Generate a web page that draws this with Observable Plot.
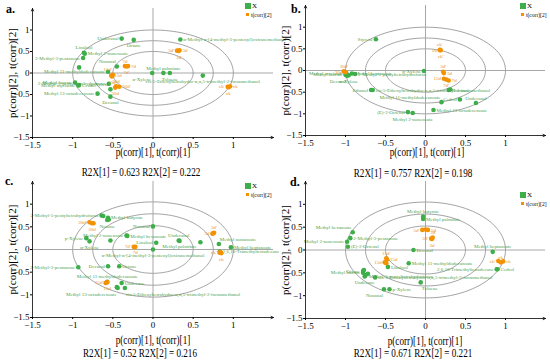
<!DOCTYPE html>
<html><head><meta charset="utf-8">
<script src="https://cdn.jsdelivr.net/npm/d3@7"></script>
<script src="https://cdn.jsdelivr.net/npm/@observablehq/plot@0.6"></script>
<style>
body{margin:0;background:#fff;}
#fig{position:relative;width:550px;height:363px;overflow:hidden;font-family:"Liberation Serif",serif;color:#000;}
.pan{position:absolute;}
.plab{position:absolute;font-weight:bold;font-size:12px;line-height:12px;}
.cap{position:absolute;font-size:12.5px;line-height:12px;white-space:nowrap;transform:translate(-50%,-50%) scaleX(0.73);}
.lg{position:absolute;}
.lgt{position:absolute;white-space:nowrap;line-height:8px;}
</style></head>
<body><div id="fig"></div>
<script>
// ---------- shared ----------
const axisTicks = [-1.5, -1, -0.5, 0, 0.5, 1];
const axisExtent = [-1.5, 1.5];
const ellipseRadii = [0.5, 0.75, 1];
const xLabel = "p(corr)[1], t(corr)[1]";
const yLabel = "p(corr)[2], t(corr)[2]";
const legendX = "X";
const legendT = "t(corr)[2]";

// ---------- panel a ----------
const aNames = ["Undecanal","Octane","α-Methyl-α-[4-methyl-3-pentenyl]oxiranemethanol","Linalool","Methyl 2-nonenoate","2-Methyl-3-pentanone","Heptanal","Nonanal","Methyl 11-methyldodecanoate","α-Xylene","Methyl palmitate","Toluene","cis-5-Ethenyltetrahydro-α,α,5-trimethyl-2-furanmethanol","Methyl laurate","2-Methyl-5-pentyltetrahydrofuran","Methyl myristate","Cedrol","p-Xylene","Methyl 13-octadecenoate","Decanal"];
const aX = [-0.39,-0.24,0.34,-0.86,-0.85,-0.87,-0.92,-0.45,-0.56,-0.01,0.13,0.21,0.62,-0.97,-0.55,-0.93,-0.92,-0.53,-0.69,-0.53];
const aY = [0.80,0.77,0.78,0.47,0.45,0.35,0.13,0.15,0.03,0.0,0.0,0.0,-0.06,-0.22,-0.25,-0.29,-0.28,-0.38,-0.48,-0.55];
const aCodes = ["ck'","ck","ck","3d'","3d","3d","7d","7d","7d'","15d","15d'","15d","30d","30d'","30d"];
const aOX = [0.93,0.96,0.94,0.30,0.33,0.32,-0.35,-0.31,-0.33,-0.52,-0.50,-0.51,-0.47,-0.42,-0.46];
const aOY = [-0.32,-0.31,-0.33,0.52,0.53,0.51,0.16,0.16,0.15,-0.06,-0.04,-0.08,-0.34,-0.32,-0.31];
const aR2X = ["0.623","0.222"];
const aPlace = ["l","b","r","t","r","l","n","tl","l","bl","t","b","b","l","l","l","r","tl","l","b"];
const aOPlace = ["l","r","b","l","r","b","t","r","b","r","tl","b","b","r","t"];

// ---------- panel b ----------
const bNames = ["Styrene","Methyl laurate","Methyl myristate","Decanal","α-Xylene","Methyl heptanoate","2-Methyl-5-pentyltetrahydrofuran","p-Xylene","Ethanol","cis-5-Ethenyltetrahydro-α,α,5-trimethyl-2-furanmethanol","Nonanal","Octane","Methyl 11-methyldodecanoate","Cedrol","Undecanal","Methyl 13-octadecenoate","(E)-2-Octenal","Methyl 2-nonenoate"];
const bX = [-0.62,-1.0,-0.99,-0.98,-0.96,-0.92,-0.88,-0.02,-0.68,-0.66,0.29,0.31,0.20,0.43,0.63,0.10,-0.22,-0.16];
const bY = [0.72,-0.10,-0.06,-0.12,-0.11,-0.07,-0.08,-0.01,-0.45,-0.45,-0.45,-0.44,-0.73,-0.67,-0.75,-0.91,-0.96,-0.98];
const bCodes = ["ck'","ck","ck'","3d'","3d","15d","7d'","7d","30d'","30d"];
const bOX = [0.18,0.18,0.19,0.22,0.23,0.23,0.26,0.29,-1.02,-1.0];
const bOY = [0.48,0.47,0.47,-0.03,-0.06,-0.19,-0.21,-0.23,-0.02,-0.04];
const bR2X = ["0.757","0.198"];
const bPlace = ["l","l","l","bl","b","r","r","l","l","r","r","n","tl","l","t","r","l","b"];
const bOPlace = ["t","l","b","t","r","l","b","r","t","l"];

// ---------- panel c ----------
const cNames = ["2-Methyl-5-pentyltetrahydrofuran","Heptanal","Methyl butyrate","Nonane","Methyl pentanoate","Nonanal","Methyl 2-nonenoate","Methyl hexanoate","p-Xylene","α-Xylene","Octanal","Linalool","α-Methyl-α-[4-methyl-3-pentenyl]oxiranemethanol","Undecanal","Methyl palmitate","Methyl laurate","Methyl nonanoate","Methyl heptanoate","2,6,10-Trimethyltetradecane","2-Methyl-3-pentanone","Decanal","Octane","Methyl 11-methyldodecanoate","Undecane","Methyl 13-octadecenoate","Methyl myristate","cis-5-Ethenyltetrahydro-α,α,5-trimethyl-2-furanmethanol"];
const cX = [-0.64,-0.62,-0.56,-0.57,-0.55,0.0,-0.33,-0.32,-0.83,-0.79,-0.53,0.04,0.0,0.32,0.33,0.59,0.82,0.97,0.83,-0.93,-0.56,-0.42,-0.57,-0.39,-0.44,-0.45,-0.35];
const cY = [0.75,0.74,0.70,0.65,0.66,0.51,0.31,0.30,0.25,0.18,0.20,0.15,0.0,0.20,0.19,0.16,0.12,0.05,-0.05,-0.39,-0.37,-0.37,-0.71,-0.74,-0.85,-0.83,-0.85];
const cCodes = ["30d'","30d","30d","7d'","7d","7d","15d'","15d","15d","3d","3d'","3d","ck'","ck","ck"];
const cOX = [-0.79,-0.76,-0.74,-0.24,-0.22,-0.23,-0.58,-0.57,-0.59,0.74,0.76,0.75,0.83,0.85,0.84];
const cOY = [0.60,0.58,0.58,0.06,0.06,0.05,-0.73,-0.72,-0.74,0.35,0.37,0.36,-0.07,-0.08,-0.06];
const cR2X = ["0.52","0.216"];
const cPlace = ["l","n","r","b","n","l","l","r","l","b","n","l","b","t","b","n","tr","r","r","l","l","r","t","r","bl","n","br"];
const cOPlace = ["l","b","n","l","b","n","l","b","n","l","t","n","l","b","n"];

// ---------- panel d ----------
const dNames = ["Methyl butyrate","Methyl palmitate","Methyl hexanoate","2-Methyl-3-pentanone","Methyl 2-nonenoate","(E)-2-Octenal","Decanal","Methyl heptanoate","Methyl 11-methyldodecanoate","Linalool","2-Methyl-5-pentyltetrahydrofuran","Octane","Cedrol","2,6,10-Trimethyltetradecane","Methyl laurate","Methyl myristate","Methyl 13-octadecenoate","Undecane","cis-5-Ethenyltetrahydro-α,α,5-trimethyl-2-furanmethanol","Toluene","Nonanal","p-Xylene"];
const dX = [-0.03,-0.03,-0.91,-0.94,-0.98,-0.97,-0.15,0.84,-0.21,-0.47,-0.77,-0.78,0.90,0.89,-0.78,-0.75,-0.72,-0.76,-0.63,-0.06,-0.52,-0.45];
const dY = [0.73,0.68,0.39,0.26,0.18,0.07,0.0,-0.04,-0.29,-0.37,-0.44,-0.46,-0.42,-0.42,-0.50,-0.55,-0.52,-0.58,-0.60,-0.71,-0.86,-0.86];
const dCodes = ["5d'","5d","5d","3d'","3d","3d","15d'","15d","15d","15d","ck'","ck","ck"];
const dOX = [-0.04,0.0,0.03,0.07,0.09,0.08,-0.49,-0.48,-0.51,-0.49,0.91,0.94,0.97];
const dOY = [0.44,0.45,0.44,0.25,0.27,0.24,-0.18,-0.21,-0.27,-0.29,-0.24,-0.27,-0.25];
const dR2X = ["0.671","0.221"];
const dPlace = ["t","r","tl","r","l","r","r","t","r","r","br","l","r","l","l","n","n","b","r","br","bl","r"];
const dOPlace = ["l","n","r","l","t","b","t","r","l","n","l","t","r"];

// ---------- drawing ----------
const GREEN = "#3dae49", GREEN_T = "#4f9f4f", ORANGE = "#f39200", ORANGE_T = "#e8912a";
const placeSpec = {
  l:{textAnchor:"end",dx:-3,dy:0}, r:{textAnchor:"start",dx:3,dy:0},
  t:{textAnchor:"middle",dx:0,dy:-5}, b:{textAnchor:"middle",dx:0,dy:6},
  tl:{textAnchor:"end",dx:-1,dy:-5}, tr:{textAnchor:"start",dx:1,dy:-5},
  bl:{textAnchor:"end",dx:-1,dy:6}, br:{textAnchor:"start",dx:1,dy:6}
};
const fig = document.getElementById("fig");

function panel(p) {
  const green = p.names.map((n,i)=>({name:n,x:p.gx[i],y:p.gy[i],place:p.gp[i]}));
  const orange = p.codes.map((n,i)=>({name:n,x:p.ox[i],y:p.oy[i],place:p.op[i]}));
  const ell = ellipseRadii.flatMap(r => d3.range(0, 361, 3).map(a => ({r, x: r*Math.cos(a*Math.PI/180), y: r*p.ry*Math.sin(a*Math.PI/180)})));
  const axesLines = [
    {x1:axisExtent[0], y1:axisExtent[0], x2:axisExtent[1], y2:axisExtent[0]},
    {x1:axisExtent[0], y1:axisExtent[0], x2:axisExtent[0], y2:axisExtent[1]}
  ];
  const labelMarks = (data, fill) => Object.keys(placeSpec).map(k =>
    Plot.text(data.filter(d => d.place === k), {x:"x", y:"y", text:"name", fill, fontSize:5, ...placeSpec[k]}));
  const chart = Plot.plot({
    width: 275, height: p.h,
    marginLeft: p.ml, marginRight: p.mr, marginTop: p.mt, marginBottom: p.mb,
    x: {domain: axisExtent}, y: {domain: axisExtent},
    style: {fontFamily: "Liberation Serif", fontSize: "9px", background: "transparent", overflow: "visible"},
    marks: [
      Plot.line(ell, {x:"x", y:"y", z:"r", stroke:"#8c8c8c", strokeWidth:0.8, curve:"linear"}),
      Plot.ruleY([0], {x1: axisExtent[0], x2: axisExtent[1], stroke:"#a8a8a8", strokeWidth:1}),
      Plot.ruleX([0], {y1: axisExtent[0], y2: axisExtent[1], stroke:"#a8a8a8", strokeWidth:1}),
      Plot.dot(green, {x:"x", y:"y", r:2.3, fill:GREEN}),
      ...labelMarks(green, GREEN_T),
      Plot.dot(orange, {x:"x", y:"y", r:2.3, fill:ORANGE}),
      ...labelMarks(orange, ORANGE_T),
      Plot.axisX({ticks: axisTicks, tickSize: 2, tickPadding: 2, fontSize: 9, label: null, tickFormat: d3.format("~g")}),
      Plot.axisY({ticks: axisTicks, tickSize: 2, tickPadding: 1, fontSize: 9, label: null, tickFormat: d3.format("~g")}),
      Plot.arrow(axesLines, {x1:"x1", y1:"y1", x2:"x2", y2:"y2", stroke:"#000", strokeWidth:0.8, headLength:5, headAngle:50}),
      Plot.text([yLabel], {frameAnchor:"left", textAnchor:"middle", lineAnchor:"middle", dx:-20, rotate:-90, fontSize:11, fill:"#000"})
    ]
  });
  const wrap = document.createElement("div");
  wrap.className = "pan";
  wrap.style.left = p.left + "px"; wrap.style.top = p.top + "px";
  wrap.appendChild(chart);
  fig.appendChild(wrap);

  const mk = (cls, txt, css) => { const e = document.createElement("div"); e.className = cls; e.textContent = txt; Object.assign(e.style, css); fig.appendChild(e); return e; };
  mk("plab", p.letter, {left: p.letterX + "px", top: p.letterY + "px"});
  mk("cap", xLabel, {left: p.capX + "px", top: p.capY + "px"});
  mk("cap", `R2X[1] = ${p.r2x[0]} R2X[2] = ${p.r2x[1]}`, {left: p.r2X + "px", top: p.r2Y + "px"});
  // legend
  mk("lg", "", {left: p.lgX + "px", top: p.lgY + "px", width: "6px", height: "6px", background: GREEN});
  mk("lgt", legendX, {left: (p.lgX + 7) + "px", top: (p.lgY - 1) + "px", fontSize: "7px"});
  mk("lg", "", {left: (p.lgX + 1) + "px", top: (p.lgY + 10) + "px", width: "3px", height: "3px", background: ORANGE});
  mk("lgt", legendT, {left: (p.lgX + 6) + "px", top: (p.lgY + 8) + "px", fontSize: "5.5px"});
}

panel({names:aNames, gx:aX, gy:aY, gp:aPlace, codes:aCodes, ox:aOX, oy:aOY, op:aOPlace, r2x:aR2X, ry:1,
  left:0, top:0, h:150, ml:32, mr:2, mt:8, mb:13, letter:"a.", letterX:6, letterY:3,
  capX:153, capY:152, r2X:141, r2Y:172, lgX:245, lgY:3});
panel({names:bNames, gx:bX, gy:bY, gp:bPlace, codes:bCodes, ox:bOX, oy:bOY, op:bOPlace, r2x:bR2X, ry:1,
  left:275, top:0, h:150, ml:30, mr:5, mt:5, mb:15, letter:"b.", letterX:291, letterY:3,
  capX:426.5, capY:152, r2X:412.5, r2Y:173, lgX:520, lgY:3});
panel({names:cNames, gx:cX, gy:cY, gp:cPlace, codes:cCodes, ox:cOX, oy:cOY, op:cOPlace, r2x:cR2X, ry:1.05,
  left:0, top:180, h:152, ml:32, mr:2, mt:1, mb:15, letter:"c.", letterX:5, letterY:175,
  capX:152.5, capY:340, r2X:140, r2Y:353, lgX:245, lgY:183});
panel({names:dNames, gx:dX, gy:dY, gp:dPlace, codes:dCodes, ox:dOX, oy:dOY, op:dOPlace, r2x:dR2X, ry:1.05,
  left:275, top:180, h:152, ml:30, mr:5, mt:1, mb:14, letter:"d.", letterX:290, letterY:176,
  capX:425, capY:341, r2X:412.5, r2Y:353, lgX:520, lgY:192});
</script>
</body></html>
